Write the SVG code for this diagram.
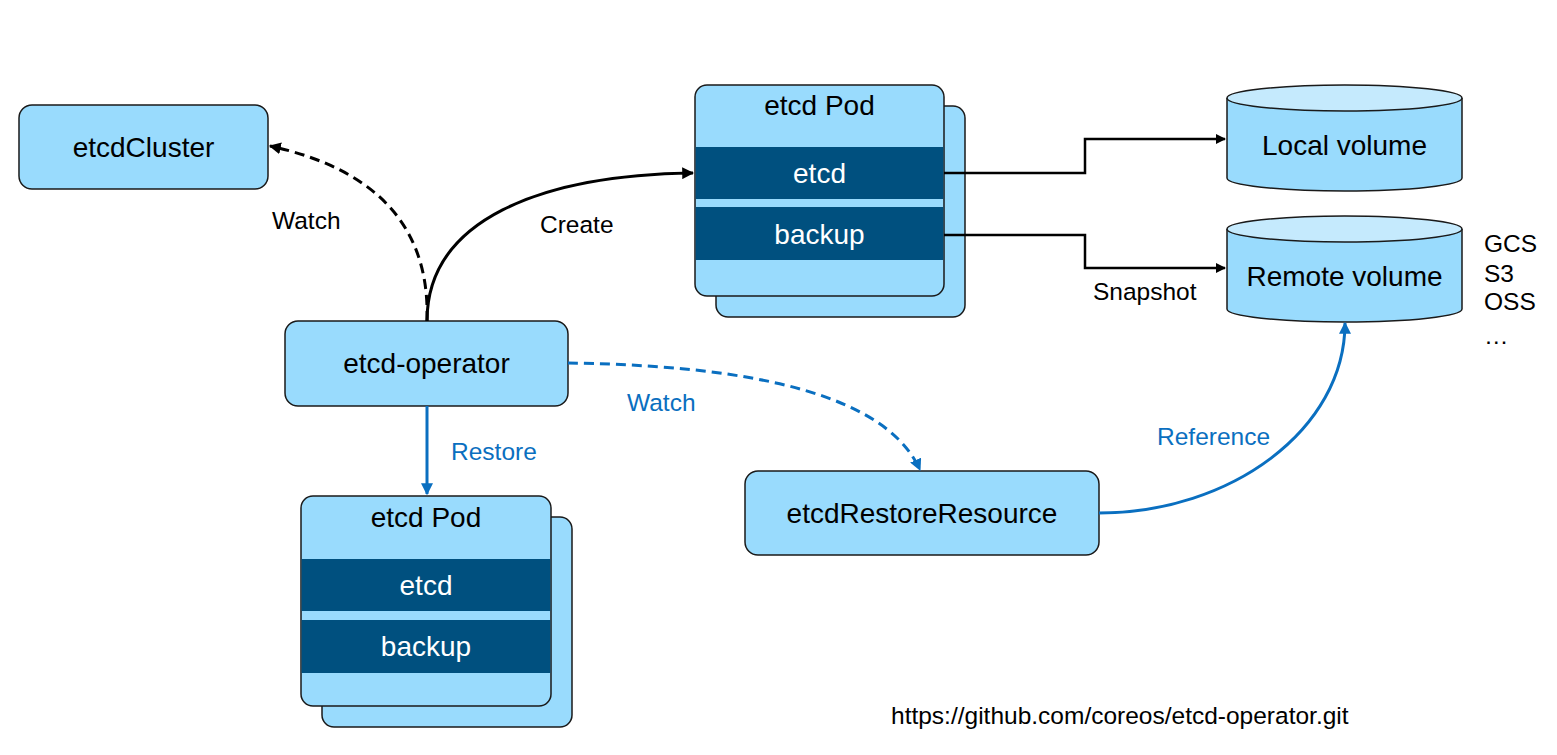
<svg xmlns="http://www.w3.org/2000/svg" width="1557" height="755" viewBox="0 0 1557 755">
  <style>
    .box { fill: #99dbfd; stroke: #1a1a1a; stroke-width: 1.5; }
    .band { fill: #00507f; }
    .cap { fill: #c5eafd; stroke: #1a1a1a; stroke-width: 1.5; }
    .t { font-family: "Liberation Sans", Arial, sans-serif; font-size: 28px; fill: #000; text-anchor: middle; }
    .tw { font-family: "Liberation Sans", Arial, sans-serif; font-size: 28px; fill: #fff; text-anchor: middle; }
    .lbl { font-family: "Liberation Sans", Arial, sans-serif; font-size: 24.5px; fill: #000; }
    .lblb { font-family: "Liberation Sans", Arial, sans-serif; font-size: 24.5px; fill: #0a6fc0; }
    .blk { fill: none; stroke: #000; stroke-width: 3; }
    .blu { fill: none; stroke: #0a6fc0; stroke-width: 3; }
    .dash { stroke-dasharray: 10 6; }
  </style>
  <defs>
    <marker id="ah" viewBox="0 0 10 10" refX="9" refY="5" markerWidth="4" markerHeight="4" orient="auto" markerUnits="strokeWidth">
      <path d="M0,0 L10,5 L0,10 z" fill="#000"/>
    </marker>
    <marker id="ahb" viewBox="0 0 10 10" refX="9" refY="5" markerWidth="4" markerHeight="4" orient="auto" markerUnits="strokeWidth">
      <path d="M0,0 L10,5 L0,10 z" fill="#0a6fc0"/>
    </marker>
  </defs>
  <rect width="1557" height="755" fill="#fff"/>

  <g id="etcdCluster">
    <rect class="box" x="19" y="105" width="249" height="84" rx="13"/>
    <text class="t" x="143.5" y="157">etcdCluster</text>
  </g>

  <g id="etcdPodTop">
    <rect class="box" x="716" y="106" width="249" height="211" rx="12"/>
    <rect class="box" x="695" y="85" width="249" height="211" rx="12"/>
    <rect class="band" x="695.75" y="147" width="247.5" height="52"/>
    <rect class="band" x="695.75" y="207" width="247.5" height="53"/>
    <text class="t" x="819.5" y="115">etcd Pod</text>
    <text class="tw" x="819.5" y="183">etcd</text>
    <text class="tw" x="819.5" y="244">backup</text>
  </g>

  <g id="localVolume">
    <path class="box" d="M1227,98 V178 A117.5,13 0 0 0 1462,178 V98"/>
    <ellipse class="cap" cx="1344.5" cy="98" rx="117.5" ry="13"/>
    <text class="t" x="1344.5" y="155">Local volume</text>
  </g>

  <g id="remoteVolume">
    <path class="box" d="M1227,229 V309 A117.5,13 0 0 0 1462,309 V229"/>
    <ellipse class="cap" cx="1344.5" cy="229" rx="117.5" ry="13"/>
    <text class="t" x="1344.5" y="286">Remote volume</text>
  </g>

  <g id="etcdOperator">
    <rect class="box" x="285" y="321" width="283" height="85" rx="13"/>
    <text class="t" x="426.5" y="373">etcd-operator</text>
  </g>

  <g id="etcdPodBottom">
    <rect class="box" x="322" y="517" width="250" height="210" rx="12"/>
    <rect class="box" x="301" y="496" width="250" height="210" rx="12"/>
    <rect class="band" x="301.75" y="559" width="248.5" height="52"/>
    <rect class="band" x="301.75" y="620" width="248.5" height="53"/>
    <text class="t" x="426" y="527">etcd Pod</text>
    <text class="tw" x="426" y="595">etcd</text>
    <text class="tw" x="426" y="656">backup</text>
  </g>

  <g id="etcdRestoreResource">
    <rect class="box" x="745" y="471" width="354" height="84" rx="13"/>
    <text class="t" x="922" y="523">etcdRestoreResource</text>
  </g>

  <g id="connectors">
    <!-- operator watches etcdCluster -->
    <path class="blk dash" d="M427,321 C430,230 380,170 270,146" marker-end="url(#ah)"/>
    <!-- operator creates the pod -->
    <path class="blk" d="M427,321 C427,220 540,175 693,173" marker-end="url(#ah)"/>
    <!-- etcd to local volume -->
    <path class="blk" d="M944,173 H1085 V139 H1225" marker-end="url(#ah)" style="stroke-width:2.5"/>
    <!-- backup snapshot to remote volume -->
    <path class="blk" d="M944,235 H1085 V268 H1225" marker-end="url(#ah)" style="stroke-width:2.5"/>
    <!-- operator restore -->
    <path class="blu" d="M427,406 V494" marker-end="url(#ahb)"/>
    <!-- operator watches restore resource -->
    <path class="blu dash" d="M568,363 C700,365 880,380 920,470" marker-end="url(#ahb)"/>
    <!-- restore resource references remote volume -->
    <path class="blu" d="M1099,513 C1230,513 1345,430 1345,323" marker-end="url(#ahb)"/>
  </g>

  <g id="labels">
    <text class="lbl" x="272" y="229">Watch</text>
    <text class="lbl" x="540" y="233">Create</text>
    <text class="lbl" x="1093" y="300">Snapshot</text>
    <text class="lblb" x="627" y="411">Watch</text>
    <text class="lblb" x="451" y="460">Restore</text>
    <text class="lblb" x="1157" y="445">Reference</text>
    <text class="lbl" x="1484" y="252">GCS</text>
    <text class="lbl" x="1484" y="282">S3</text>
    <text class="lbl" x="1484" y="310">OSS</text>
    <text class="lbl" x="1484" y="344">…</text>
    <text class="lbl" x="891" y="724">https://github.com/coreos/etcd-operator.git</text>
  </g>
</svg>
